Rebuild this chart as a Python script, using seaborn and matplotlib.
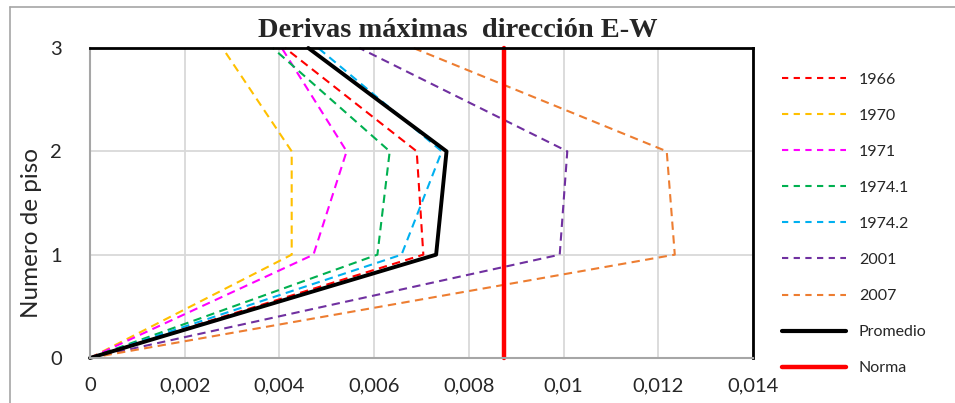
import pandas as pd
import seaborn as sns
import matplotlib.pyplot as plt
from matplotlib.lines import Line2D

# Datos (deriva por piso)
pisos = [0, 1, 2, 3]
d_1966 = [0, 0.00704, 0.00690, 0.00412]
d_1970 = [0, 0.00426, 0.00426, 0.00280]
d_1971 = [0, 0.00472, 0.00542, 0.00405]
d_1974_1 = [0, 0.00607, 0.00633, 0.00386]
d_1974_2 = [0, 0.00658, 0.00743, 0.00482]
d_2001 = [0, 0.00992, 0.01008, 0.00569]
d_2007 = [0, 0.01235, 0.01218, 0.00683]
promedio = [0, 0.00731, 0.00753, 0.00461]
norma = 0.00875

series = {
    "1966": (d_1966, "#FF0000"),
    "1970": (d_1970, "#FFC000"),
    "1971": (d_1971, "#FF00FF"),
    "1974.1": (d_1974_1, "#00B050"),
    "1974.2": (d_1974_2, "#00B0F0"),
    "2001": (d_2001, "#7030A0"),
    "2007": (d_2007, "#ED7D31"),
}

sns.set_style("white")
plt.rcParams["font.family"] = ["Lato", "DejaVu Sans"]

fig = plt.figure(figsize=(9.55, 4.03), dpi=100)
ax = fig.add_axes([0.0942, 0.1117, 0.6942, 0.7692])

handles = []
for nombre, (valores, color) in series.items():
    df = pd.DataFrame({"deriva": valores, "piso": pisos})
    sns.lineplot(data=df, x="deriva", y="piso", sort=False, estimator=None,
                 color=color, lw=1.5, ax=ax, dashes=False)
    ax.lines[-1].set_dashes((4, 2.6))
    handles.append(Line2D([], [], color=color, lw=1.5, dashes=(3, 2.6), label=nombre))

df_prom = pd.DataFrame({"deriva": promedio, "piso": pisos})
sns.lineplot(data=df_prom, x="deriva", y="piso", sort=False, estimator=None,
             color="black", lw=2.8, ax=ax)
handles.append(Line2D([], [], color="black", lw=3, label="Promedio"))

df_norma = pd.DataFrame({"deriva": [norma, norma], "piso": [0, 3]})
sns.lineplot(data=df_norma, x="deriva", y="piso", sort=False, estimator=None,
             color="#FF0000", lw=3.2, ax=ax)
handles.append(Line2D([], [], color="#FF0000", lw=3.2, label="Norma"))

for ln in ax.lines:
    ln.set_clip_on(False)

ax.set_xlim(0, 0.014)
ax.set_ylim(0, 3)
ax.set_xticks([0, 0.002, 0.004, 0.006, 0.008, 0.01, 0.012, 0.014])
ax.set_xticklabels(["0", "0,002", "0,004", "0,006", "0,008", "0,01", "0,012", "0,014"])
ax.set_yticks([0, 1, 2, 3])
ax.tick_params(axis="both", labelsize=14.5, length=0)
ax.tick_params(axis="x", pad=14)
ax.tick_params(axis="y", pad=20)
ax.grid(True, color="#D9D9D9", lw=1.3)
ax.set_axisbelow(True)
ax.set_xlabel("")
ax.set_ylabel("")

ax.spines["top"].set_color("black")
ax.spines["top"].set_linewidth(2)
ax.spines["right"].set_color("black")
ax.spines["right"].set_linewidth(2)
ax.spines["left"].set_color("#A6A6A6")
ax.spines["left"].set_linewidth(1.5)
ax.spines["bottom"].set_color("#A6A6A6")
ax.spines["bottom"].set_linewidth(1.5)

fig.text(32 / 955, 1 - 233 / 403, "Numero de piso", rotation=90, ha="center",
         va="center", fontsize=17.5)

fig.text(0.4795, 0.925, "Derivas máximas  dirección E-W", ha="center", va="center",
         fontsize=20.5, fontweight="bold", family="Liberation Serif")

fig.legend(handles=handles, loc="upper left", bbox_to_anchor=(0.819, 0.82),
           frameon=False, fontsize=11.5, labelspacing=1.37, handlelength=4.0,
           handletextpad=0.8, borderpad=0, borderaxespad=0)

# marco exterior del gráfico
fig.add_artist(Line2D([0.0105, 1], [0.983, 0.983], color="#A6A6A6", lw=1.2,
                      transform=fig.transFigure))
fig.add_artist(Line2D([0.0105, 0.0105], [0, 0.983], color="#A6A6A6", lw=1.2,
                      transform=fig.transFigure))

fig.savefig("out.png", dpi=100)
